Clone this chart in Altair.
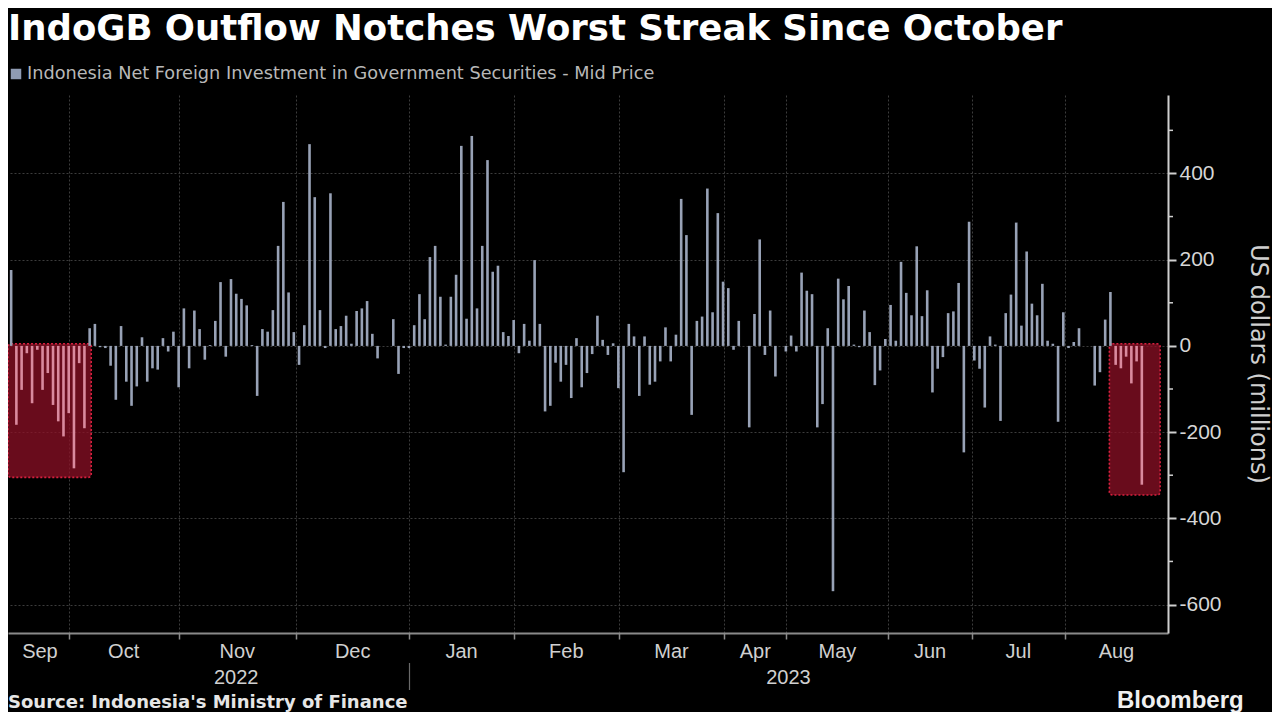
import altair as alt
import pandas as pd

# ---- data (US$ millions, one bar per reporting day) ----
values = [
    176, -183, -102, -17, -133, -9, -102, -63, -137, -175,
    -210, -156, -284, -40, -191, 41, 51, -3, -5, -46,
    -125, 46, -83, -139, -94, 20, -83, -52, -55, 18,
    -13, 33, -96, 87, -52, 82, 39, -32, 2, 58,
    148, -25, 155, 121, 109, 94, 2, -116, 39, 33,
    83, 232, 334, 124, 32, -44, 48, 468, 345, 83,
    -5, 354, 39, 46, 70, 5, 81, 87, 104, 28,
    -29, 0, 0, 62, -65, -5, -5, 48, 120, 62,
    206, 232, 114, 3, 114, 165, 464, 63, 487, 87,
    232, 431, 172, 186, 32, 23, 60, -17, 51, 12,
    199, 51, -152, -139, -39, -83, -44, -121, 18, -96,
    -63, -19, 70, 14, -21, 6, -98, -293, 51, 22,
    -116, 22, -90, -83, -36, 43, -36, 26, 341, 257,
    -160, 58, 68, 365, 78, 308, 149, 134, -9, 58,
    0, -189, 74, 247, -21, 82, -71, 0, -13, 24,
    -13, 170, 128, 120, -189, -135, 41, -569, 156, 108,
    139, 3, -3, 82, 32, -91, -57, 16, 95, 12,
    195, 123, 71, 231, 69, 129, -108, -53, -26, 76,
    80, 146, -247, 288, -34, -53, -143, 22, 3, -174,
    76, 119, 286, 47, 219, 98, 71, 144, 12, 5,
    -176, 78, -5, 9, 41, 0, 0, -92, -61, 61,
    125, -44, -52, -25, -87, -36, -322,
]
month_names = ["Sep", "Oct", "Nov", "Dec", "Jan", "Feb", "Mar", "Apr", "May", "Jun", "Jul", "Aug"]
month_edges = [0, 11.0, 32.0, 54.4, 76.1, 96.0, 116.1, 136.2, 148.1, 167.6, 183.5, 201.3, 221.0]
year_names = ["2022", "2023"]
year_pos = [43.0, 148.5]
year_split = [76.1]
box_start = [-0.6, 209.8]
box_end = [15.3, 219.5]
box_top = [5, 5]
box_bottom = [-305, -346]
y_ticks = [-600, -400, -200, 0, 200, 400]
y_minor = [-500, -300, -100, 100, 300, 500]

TITLE = "IndoGB Outflow Notches Worst Streak Since October"
LEGEND = "Indonesia Net Foreign Investment in Government Securities - Mid Price"
SOURCE = "Source: Indonesia's Ministry of Finance"
YTITLE = "US dollars (millions)"

W, H = 1160, 538
FONT = "Liberation Sans"

# ---- tables ----
hl = []
for i, v in enumerate(values):
    inside = any(s <= i <= e for s, e in zip(box_start, box_end))
    hl.append("streak" if (inside and v < 0) else "normal")
bars = pd.DataFrame({"i": list(range(len(values))), "v": values, "hl": hl})
boxes = pd.DataFrame({"i": box_start, "x1": box_end, "v": box_top, "y1": box_bottom})
mid = [(month_edges[k] + month_edges[k + 1]) / 2 for k in range(len(month_names))]
months = pd.DataFrame({"m": month_names, "i": mid})
years = pd.DataFrame({"yname": year_names, "i": year_pos})
split = pd.DataFrame({"i": year_split})
minor = pd.DataFrame({"v": y_minor})

xs = alt.Scale(domain=[-0.6, 221.0], nice=False, zero=False)
ys = alt.Scale(domain=[-666, 582], nice=False, zero=False)

AX = alt.Axis(
    values=month_edges[1:-1], labels=False, title=None, grid=True,
    gridColor="#3c3c3c", gridDash=[2, 2], gridWidth=1,
    domainColor="#8a8a8a", domainWidth=2, tickColor="#8a8a8a",
    tickSize=6, tickWidth=1.5)
AY = alt.Axis(
    orient="right", values=y_ticks, title=None, grid=True,
    gridColor="#3c3c3c", gridDash=[2, 2], gridWidth=1,
    domainColor="#cfcfcf", domainWidth=2, tickColor="#cfcfcf",
    tickSize=8, tickWidth=2, labelColor="#d6d6d6", labelFont=FONT,
    labelFontSize=21, labelPadding=3, labelExpr="toString(datum.value)")

X = lambda f: alt.X(f, scale=xs, axis=AX)
Y = lambda f: alt.Y(f, scale=ys, axis=AY)

box_layer = alt.Chart(boxes).mark_rect(
    fill="#8c1026", fillOpacity=0.75, stroke="#d8203f", strokeWidth=1.6,
    strokeDash=[2, 2], cornerRadius=3
).encode(x=X("i:Q"), x2="x1:Q", y=Y("v:Q"), y2="y1:Q")

bar_layer = alt.Chart(bars).mark_rule(strokeWidth=2.6).encode(
    x=X("i:Q"),
    y=Y("v:Q"),
    y2=alt.datum(0),
    color=alt.Color("hl:N", scale=alt.Scale(domain=["normal", "streak"],
                                            range=["#98a2b6", "#d98a9e"]), legend=None),
)

minor_layer = alt.Chart(minor).mark_rule(color="#cfcfcf", strokeWidth=1.5).encode(
    y=Y("v:Q"), x=alt.value(W), x2=alt.value(W + 5)
)

month_layer = alt.Chart(months).mark_text(
    font=FONT, fontSize=20, color="#d0d0d0", baseline="middle", align="center"
).encode(x=X("i:Q"), y=alt.value(H + 19), text="m:N")

year_layer = alt.Chart(years).mark_text(
    font=FONT, fontSize=20, color="#d0d0d0", baseline="middle", align="center"
).encode(x=X("i:Q"), y=alt.value(H + 45), text="yname:N")

split_layer = alt.Chart(split).mark_rule(color="#6a6a6a", strokeWidth=1.2).encode(
    x=X("i:Q"), y=alt.value(H + 30), y2=alt.value(H + 57)
)

title_layer = alt.Chart(pd.DataFrame({"t": [TITLE]})).mark_text(
    font="DejaVu Sans", fontSize=35.5, fontWeight="bold", color="#ffffff", align="left",
    baseline="alphabetic"
).encode(x=alt.value(0), y=alt.value(-55), text="t:N")

legend_sq = alt.Chart(pd.DataFrame({"t": [LEGEND]})).mark_square(
    size=110, color="#8f9bb3", opacity=1
).encode(x=alt.value(8), y=alt.value(-21))

legend_txt = alt.Chart(pd.DataFrame({"t": [LEGEND]})).mark_text(
    font="DejaVu Sans", fontSize=17.7, color="#b8b8b8", align="left", baseline="middle"
).encode(x=alt.value(19), y=alt.value(-21), text="t:N")

ytitle_layer = alt.Chart(pd.DataFrame({"t": [YTITLE]})).mark_text(
    font="DejaVu Sans", fontSize=24, color="#cfcfcf", angle=90, align="center",
    baseline="middle"
).encode(x=alt.value(W + 90), y=alt.value(269), text="t:N")

source_layer = alt.Chart(pd.DataFrame({"t": [SOURCE]})).mark_text(
    font="DejaVu Sans", fontSize=18, fontWeight="bold", color="#e6e6e6", align="left",
    baseline="alphabetic"
).encode(x=alt.value(0), y=alt.value(H + 75), text="t:N")

bbg_layer = alt.Chart(pd.DataFrame({"t": ["Bloomberg"]})).mark_text(
    font=FONT, fontSize=24, fontWeight="bold", color="#f0f0f0", align="left",
    baseline="alphabetic"
).encode(x=alt.value(1109), y=alt.value(H + 75), text="t:N")

chart = alt.layer(
    box_layer, bar_layer, minor_layer, month_layer, year_layer, split_layer,
    title_layer, legend_sq, legend_txt, ytitle_layer, source_layer, bbg_layer
).properties(
    width=W, height=H,
    padding={"left": 0, "top": 87, "right": 104, "bottom": 79},
    autosize=alt.AutoSizeParams(type="none"),
    background="#000000",
).configure_view(strokeWidth=0)

chart.save("out.html", embed_options={"renderer": "svg", "actions": False})
